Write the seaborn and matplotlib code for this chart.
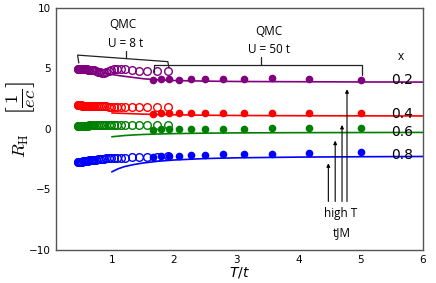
import numpy as np
import pandas as pd
import matplotlib
matplotlib.use("Agg")
import matplotlib.pyplot as plt
import seaborn as sns

# QMC, U = 8 t (open circles)
t_u8 = [0.45, 0.46, 0.47, 0.48, 0.49, 0.50, 0.51, 0.52, 0.54, 0.55, 0.57, 0.58,
        0.60, 0.62, 0.64, 0.66, 0.68, 0.70, 0.72, 0.75, 0.78, 0.81, 0.84, 0.87,
        0.91, 0.95, 0.99, 1.03, 1.08, 1.14, 1.21, 1.32, 1.44, 1.56, 1.72, 1.91]
rh_u8_02 = [4.97, 4.97, 4.96, 4.96, 4.96, 4.95, 4.95, 4.95, 4.94, 4.94, 4.93, 4.93,
            4.92, 4.91, 4.90, 4.89, 4.88, 4.86, 4.84, 4.80, 4.74, 4.68, 4.63, 4.62,
            4.70, 4.80, 4.88, 4.94, 4.98, 4.97, 4.92, 4.86, 4.80, 4.76, 4.80, 4.76]
rh_u8_04 = [1.95, 1.95, 1.95, 1.94, 1.94, 1.94, 1.94, 1.93, 1.93, 1.93, 1.92, 1.92,
            1.92, 1.91, 1.91, 1.90, 1.90, 1.89, 1.89, 1.88, 1.88, 1.87, 1.87, 1.86,
            1.86, 1.85, 1.85, 1.85, 1.84, 1.84, 1.84, 1.83, 1.82, 1.82, 1.81, 1.80]
rh_u8_06 = [0.26, 0.26, 0.26, 0.26, 0.27, 0.27, 0.27, 0.27, 0.27, 0.28, 0.28, 0.28,
            0.28, 0.28, 0.29, 0.29, 0.29, 0.29, 0.29, 0.30, 0.30, 0.30, 0.30, 0.30,
            0.31, 0.31, 0.31, 0.31, 0.32, 0.32, 0.32, 0.32, 0.33, 0.33, 0.33, 0.33]
rh_u8_08 = [-2.76, -2.75, -2.75, -2.74, -2.73, -2.72, -2.71, -2.70, -2.69, -2.68, -2.67, -2.66,
            -2.64, -2.63, -2.61, -2.60, -2.58, -2.57, -2.55, -2.53, -2.51, -2.49, -2.47, -2.46,
            -2.44, -2.43, -2.42, -2.41, -2.40, -2.39, -2.37, -2.35, -2.34, -2.32, -2.30, -2.28]

# QMC, U = 50 t (filled circles)
t_u50 = [1.67, 1.79, 1.92, 2.08, 2.27, 2.50, 2.78, 3.13, 3.57, 4.17, 5.00]
rh_u50_02 = [4.05, 4.10, 4.10, 4.08, 4.15, 4.15, 4.12, 4.10, 4.22, 4.12, 4.05]
rh_u50_04 = [1.25, 1.30, 1.30, 1.30, 1.32, 1.32, 1.32, 1.30, 1.32, 1.32, 1.35]
rh_u50_06 = [-0.10, 0.00, 0.00, 0.00, 0.00, 0.02, 0.02, 0.02, 0.05, 0.05, 0.08]
rh_u50_08 = [-2.30, -2.28, -2.25, -2.20, -2.15, -2.12, -2.10, -2.08, -2.05, -2.00, -1.90]

# high T tJM (lines)
t_ht = [1.0, 1.1, 1.2, 1.35, 1.5, 1.75, 2.0, 2.5, 3.0, 4.0, 5.0, 6.0]
t_ht_02 = [0.85, 1.0, 1.1, 1.2, 1.35, 1.5, 1.75, 2.0, 2.5, 3.0, 4.0, 5.0, 6.0]
rh_ht_02 = [4.62, 4.50, 4.42, 4.35, 4.25, 4.15, 4.05, 4.00, 3.95, 3.92, 3.90, 3.88, 3.87]
rh_ht_04 = [1.32, 1.30, 1.28, 1.25, 1.22, 1.19, 1.17, 1.13, 1.11, 1.09, 1.08, 1.07]
rh_ht_06 = [-0.65, -0.60, -0.55, -0.50, -0.46, -0.42, -0.39, -0.35, -0.33, -0.31, -0.30, -0.29]
rh_ht_08 = [-3.55, -3.30, -3.12, -2.95, -2.82, -2.67, -2.57, -2.45, -2.39, -2.33, -2.30, -2.28]

dopings = ["0.2", "0.4", "0.6", "0.8"]
colors = ["#800080", "#ff0000", "#008000", "#0000ff"]

sns.set_style("white")
plt.rcParams["font.family"] = ["DejaVu Sans"]
plt.rcParams["text.color"] = "black"
plt.rcParams["xtick.color"] = "black"
plt.rcParams["ytick.color"] = "black"
plt.rcParams["axes.labelcolor"] = "black"

fig = plt.figure(figsize=(4.36, 2.83), dpi=100)
ax = fig.add_axes([0.128, 0.117, 0.842, 0.855])

u8 = [rh_u8_02, rh_u8_04, rh_u8_06, rh_u8_08]
u50 = [rh_u50_02, rh_u50_04, rh_u50_06, rh_u50_08]
ht = [(t_ht_02, rh_ht_02), (t_ht, rh_ht_04), (t_ht, rh_ht_06), (t_ht, rh_ht_08)]

for c, y8, y50, (tl, yl) in zip(colors, u8, u50, ht):
    sns.lineplot(x=tl, y=yl, color=c, lw=1.2, ax=ax, estimator=None, sort=False)
    sns.lineplot(x=t_u8, y=y8, color=c, ax=ax, estimator=None, sort=False,
                 linestyle="", marker="o", markersize=5.5, markerfacecolor="none",
                 markeredgecolor=c, markeredgewidth=1.0)
    sns.lineplot(x=t_u50, y=y50, color=c, ax=ax, estimator=None, sort=False,
                 linestyle="", marker="o", markersize=5.5, markeredgewidth=0)

ax.set_xlim(0.1, 6)
ax.set_ylim(-10, 10)
ax.set_xticks([1, 2, 3, 4, 5, 6])
ax.set_yticks([-10, -5, 0, 5, 10])
ax.tick_params(labelsize=7.5, length=2, color="#444444", pad=1.5)
for s in ax.spines.values():
    s.set_color("#555555")
    s.set_linewidth(1.0)

ax.set_xlabel(r"$T/t$", fontsize=10, labelpad=0, math_fontfamily="dejavusans")
ax.set_ylabel("")
# y label in two parts so the unit fraction can be drawn large
ax.text(-0.093, 0.43, r"$R_{\mathrm{H}}$", fontsize=13, math_fontfamily="cm",
        rotation=90, ha="center", va="center", transform=ax.transAxes)
ax.text(-0.094, 0.63, r"$\left[\frac{1}{ec}\right]$", fontsize=19, math_fontfamily="cm",
        rotation=90, ha="center", va="center", transform=ax.transAxes)

# brackets
bk = dict(color="#222222", lw=0.9)
ax.plot([0.47, 0.45, 1.90, 1.92], [5.45, 6.1, 5.56, 5.04], **bk)
ax.plot([1.23, 1.23], [5.82, 6.45], **bk)
ax.plot([1.68, 1.68, 5.02, 5.02], [4.70, 5.25, 5.25, 4.46], **bk)
ax.plot([3.40, 3.40], [5.25, 5.95], **bk)

tf = dict(family=["Open Sans", "DejaVu Sans"], fontsize=8.5, ha="center", va="center")
ax.text(1.18, 8.6, "QMC", **tf)
ax.text(1.23, 7.1, "U = 8 t", **tf)
ax.text(3.52, 8.05, "QMC", **tf)
ax.text(3.52, 6.55, "U = 50 t", **tf)
ax.text(5.65, 5.95, "x", **tf)
ax.text(4.68, -7.0, "high T", **tf)
ax.text(4.70, -8.6, "tJM", **tf)

for xl, yl in zip(dopings, [4.05, 1.24, -0.22, -2.15]):
    ax.text(5.66, yl, xl, fontsize=10, ha="center", va="center")

for xa, ytip in [(4.48, -2.84), (4.59, -0.97), (4.70, 0.33), (4.78, 3.28)]:
    ax.annotate("", xy=(xa, ytip), xytext=(xa, -6.0),
                arrowprops=dict(arrowstyle="-|>", color="black", lw=0.8,
                                mutation_scale=5, shrinkA=0, shrinkB=0))

fig.savefig("out.png", dpi=100)
